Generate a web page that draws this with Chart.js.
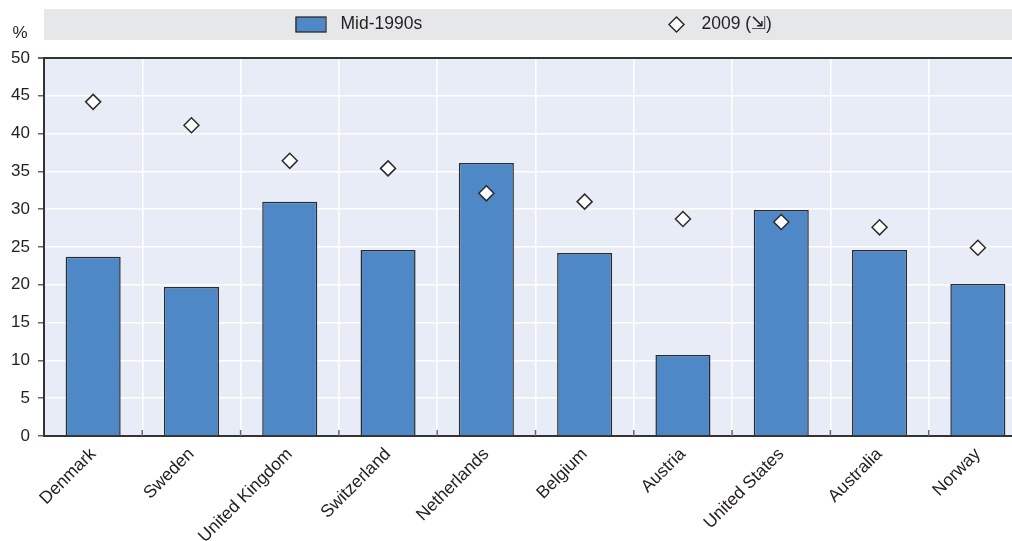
<!DOCTYPE html>
<html>
<head>
<meta charset="utf-8">
<script src="https://cdn.jsdelivr.net/npm/chart.js@4"></script>
<style>
  html, body { margin: 0; padding: 0; background: #fff; overflow: hidden; }
  #wrap { position: relative; width: 1036px; height: 541px; }
</style>
</head>
<body>
<div id="wrap"><canvas id="chart"></canvas></div>
<script>
const countries = ["Denmark", "Sweden", "United Kingdom", "Switzerland", "Netherlands",
  "Belgium", "Austria", "United States", "Australia", "Norway"];
const mid1990s = [23.7, 19.7, 31.0, 24.6, 36.1, 24.2, 10.7, 29.9, 24.6, 20.1];
const y2009 = [44.2, 41.1, 36.4, 35.4, 32.1, 31.0, 28.7, 28.3, 27.6, 24.9];
const yTicks = [0, 5, 10, 15, 20, 25, 30, 35, 40, 45, 50];
const seriesNames = ["Mid-1990s", "2009 (\u21F2)"];
const yUnit = "%";

const FONT = "'Liberation Sans', Arial, sans-serif";
const TEXT = "#231f20";
const BAR = "#4e88c7";
const EDGE = "#2b2b2b";

Chart.defaults.font.family = FONT;
Chart.defaults.color = TEXT;

function diamond(ctx, x, y, r) {
  ctx.beginPath();
  ctx.moveTo(x, y - r);
  ctx.lineTo(x + r, y);
  ctx.lineTo(x, y + r);
  ctx.lineTo(x - r, y);
  ctx.closePath();
  ctx.fillStyle = "#fff";
  ctx.fill();
  ctx.lineWidth = 1.5;
  ctx.strokeStyle = EDGE;
  ctx.stroke();
}

// plot background, legend band, "%" label and the little inner ticks on the x axis
const decor = {
  id: "decor",
  beforeDraw(chart) {
    const { ctx, chartArea: a } = chart;
    ctx.save();
    ctx.fillStyle = "#e8ecf6";
    ctx.fillRect(a.left, a.top, a.right - a.left, a.bottom - a.top);
    ctx.restore();
  },
  afterDraw(chart) {
    const { ctx, chartArea: a } = chart;
    ctx.save();
    // legend band
    ctx.fillStyle = "#e6e7e9";
    ctx.fillRect(a.left, 9, a.right - a.left, 31);
    const cx = (a.left + a.right) / 2;
    const cy = 24.5;
    ctx.font = "17.5px " + FONT;
    ctx.textBaseline = "middle";
    // bar swatch
    const sx = cx - 240;
    ctx.fillStyle = BAR;
    ctx.fillRect(sx, cy - 7.5, 30, 15);
    ctx.lineWidth = 1.3;
    ctx.strokeStyle = EDGE;
    ctx.strokeRect(sx + 0.5, cy - 7.5, 30, 15);
    ctx.fillStyle = TEXT;
    ctx.fillText(seriesNames[0], sx + 45, cy);
    // diamond
    const dx = cx + 141;
    diamond(ctx, dx, cy, 7.5);
    ctx.fillStyle = TEXT;
    ctx.fillText(seriesNames[1], dx + 25, cy);
    // unit
    ctx.textAlign = "center";
    ctx.font = "17px " + FONT;
    ctx.fillText(yUnit, 20, 33);
    // inner ticks at category boundaries
    const x = chart.scales.x;
    ctx.strokeStyle = "#666";
    ctx.lineWidth = 1.5;
    for (let i = 1; i < countries.length; i++) {
      const px = (x.getPixelForTick(i) + x.getPixelForTick(i - 1)) / 2;
      ctx.beginPath();
      ctx.moveTo(px, a.bottom);
      ctx.lineTo(px, a.bottom - 6);
      ctx.stroke();
    }
    ctx.restore();
  }
};

const config = {
  type: "bar",
  data: {
    labels: countries,
    datasets: [
      {
        type: "line",
        label: seriesNames[1],
        data: y2009,
        showLine: false,
        pointStyle: "rectRot",
        pointRadius: 7.5,
        pointHoverRadius: 7.5,
        pointBackgroundColor: "#fff",
        pointBorderColor: EDGE,
        pointBorderWidth: 1.5,
        order: 1,
      },
      {
        label: seriesNames[0],
        data: mid1990s,
        backgroundColor: BAR,
        borderColor: EDGE,
        borderWidth: 1.5,
        categoryPercentage: 1,
        barPercentage: 0.56,
        order: 2,
      },
    ],
  },
  options: {
    responsive: true,
    maintainAspectRatio: false,
    animation: false,
    layout: { padding: { top: 58, right: 4.5, left: 0, bottom: 0 } },
    plugins: {
      legend: { display: false },
      tooltip: { enabled: false },
    },
    scales: {
      x: {
        offset: true,
        afterFit(scale) { scale.height = 105; },
        grid: {
          offset: true,
          color: "#ffffff",
          lineWidth: 1.5,
          drawTicks: false,
        },
        border: { display: true, color: "#333", width: 2 },
        ticks: {
          autoSkip: false,
          maxRotation: 45,
          minRotation: 45,
          padding: 8,
          font: { size: 17.5 },
          color: TEXT,
        },
      },
      y: {
        min: 0,
        max: 50,
        afterFit(scale) { scale.width = 44; },
        afterBuildTicks(scale) { scale.ticks = yTicks.map(v => ({ value: v })); },
        grid: {
          color: c => (c.tick && c.tick.value === 50 ? "#333" : "#ffffff"),
          lineWidth: c => (c.tick && c.tick.value === 50 ? 2 : 1.5),
          tickColor: "#666",
          tickLength: 6,
        },
        border: { display: true, color: "#333", width: 2 },
        ticks: {
          padding: 8,
          font: { size: 17 },
          color: TEXT,
        },
      },
    },
  },
  plugins: [decor],
};

new Chart(document.getElementById("chart").getContext("2d"), config);
</script>
</body>
</html>
